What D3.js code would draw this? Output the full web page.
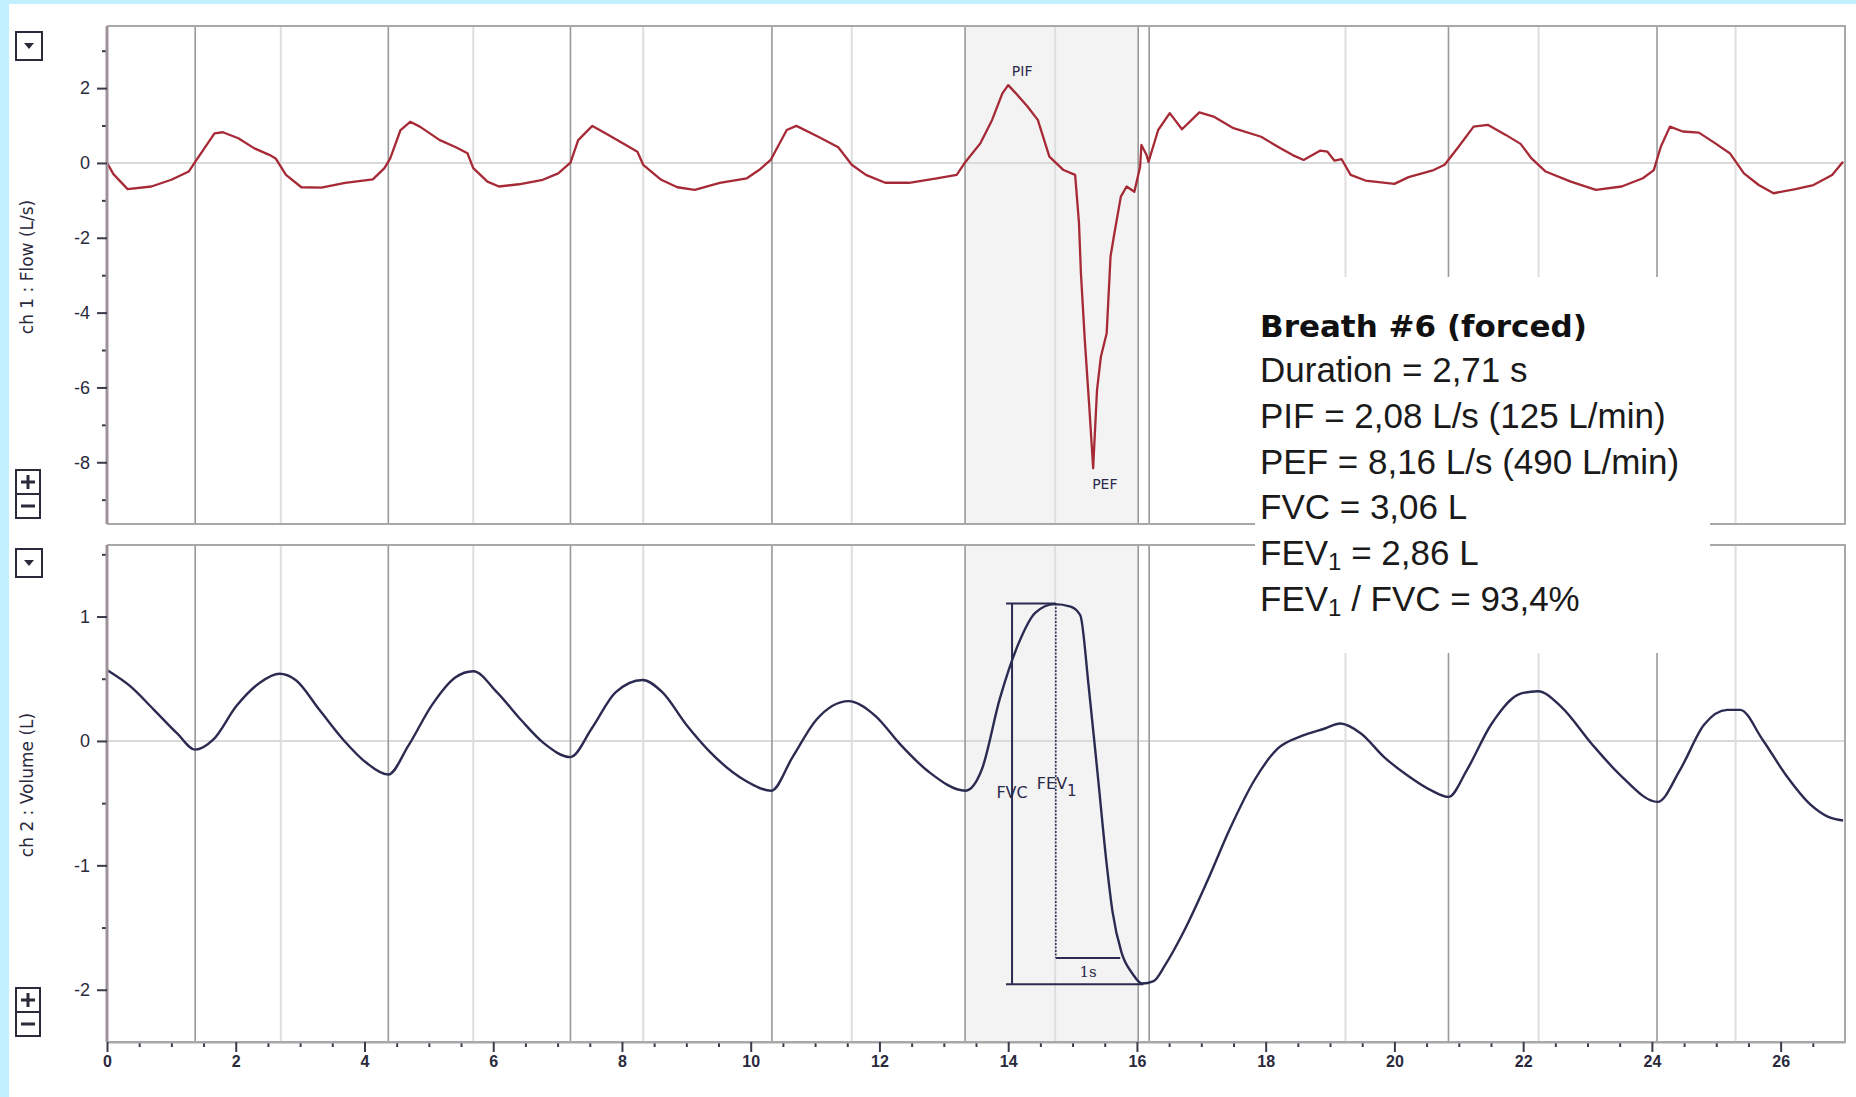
<!DOCTYPE html>
<html>
<head>
<meta charset="utf-8">
<script src="https://cdn.jsdelivr.net/npm/d3@7"></script>
<style>
  html, body { margin: 0; padding: 0; background: #fff; }
  svg { display: block; }
</style>
</head>
<body>
<div id="chart"></div>
<script>
// Spirometry trace: ch 1 flow (L/s) and ch 2 volume (L) over time (s)

const flowTime = [0, 0.1, 0.32, 0.69, 1.0, 1.27, 1.37, 1.67, 1.80, 2.04, 2.29, 2.53, 2.62, 2.78, 3.02, 3.33, 3.70, 4.13,
  4.31, 4.40, 4.56, 4.71, 4.86, 5.17, 5.42, 5.60, 5.69, 5.91, 6.09, 6.40, 6.77, 7.01, 7.20, 7.32, 7.54, 7.75, 8.06,
  8.24, 8.33, 8.61, 8.86, 9.13, 9.52, 9.94, 10.13, 10.31, 10.56, 10.71, 11.05, 11.36, 11.57, 11.79, 12.09, 12.46,
  12.89, 13.20, 13.32, 13.57, 13.75, 13.91, 14.0, 14.12, 14.30, 14.46, 14.64, 14.86, 15.04, 15.10, 15.13, 15.19,
  15.26, 15.32, 15.38, 15.44, 15.53, 15.59, 15.65, 15.75, 15.84, 15.96, 16.05, 16.07, 16.15, 16.18, 16.33, 16.51,
  16.70, 16.97, 17.19, 17.50, 17.93, 18.23, 18.42, 18.59, 18.85, 18.96, 19.07, 19.18, 19.32, 19.55, 20.0, 20.22,
  20.61, 20.78, 21.0, 21.23, 21.45, 21.73, 21.96, 22.13, 22.35, 22.74, 23.13, 23.53, 23.86, 24.03, 24.14, 24.28,
  24.48, 24.73, 24.98, 25.21, 25.43, 25.66, 25.89, 26.23, 26.51, 26.80, 26.97]
const flowValues = [0.0, -0.3, -0.70, -0.63, -0.45, -0.23, 0.03, 0.79, 0.82, 0.66, 0.39, 0.21, 0.12, -0.32, -0.65,
  -0.66, -0.53, -0.44, -0.14, 0.12, 0.88, 1.10, 0.97, 0.61, 0.42, 0.26, -0.14, -0.50, -0.63, -0.57, -0.45, -0.28,
  0.01, 0.61, 0.99, 0.79, 0.48, 0.30, -0.05, -0.45, -0.65, -0.72, -0.53, -0.41, -0.19, 0.08, 0.88, 0.99, 0.70, 0.42,
  -0.05, -0.32, -0.53, -0.53, -0.41, -0.32, -0.01, 0.53, 1.15, 1.86, 2.08, 1.86, 1.51, 1.15, 0.17, -0.19, -0.32,
  -1.61, -2.95, -4.73, -6.52, -8.16, -6.07, -5.18, -4.55, -2.5, -1.88, -0.9, -0.63, -0.77, -0.1, 0.48, 0.21, 0.03,
  0.88, 1.33, 0.90, 1.35, 1.24, 0.93, 0.70, 0.39, 0.21, 0.08, 0.33, 0.30, 0.06, 0.10, -0.32, -0.47, -0.56, -0.38,
  -0.19, -0.05, 0.44, 0.97, 1.02, 0.75, 0.51, 0.12, -0.23, -0.50, -0.72, -0.63, -0.41, -0.19, 0.44, 0.97, 0.84,
  0.81, 0.53, 0.26, -0.28, -0.59, -0.81, -0.70, -0.59, -0.32, 0.03]

const volumeTime = [0, 0.36, 0.73, 1.09, 1.37, 1.65, 2.01, 2.38, 2.68, 2.93, 3.30, 3.67, 4.04, 4.37, 4.68, 5.05,
  5.41, 5.69, 6.06, 6.43, 6.79, 7.20, 7.53, 7.90, 8.32, 8.63, 9.0, 9.37, 9.92, 10.32, 10.65, 11.02, 11.52, 11.94,
  12.31, 12.77, 13.34, 13.59, 13.87, 14.15, 14.42, 14.72, 14.97, 15.12, 15.25, 15.40, 15.53, 15.62, 15.76, 15.93,
  16.08, 16.26, 16.44, 16.72, 17.09, 17.45, 17.82, 18.19, 18.56, 18.92, 19.16, 19.48, 19.84, 20.21, 20.58, 20.84,
  21.13, 21.50, 21.96, 22.23, 22.60, 23.06, 23.52, 24.09, 24.44, 24.81, 25.17, 25.37, 25.72, 26.09, 26.46, 26.74,
  26.97]
const volumeValues = [0.57, 0.44, 0.25, 0.06, -0.07, 0.01, 0.28, 0.47, 0.54, 0.49, 0.25, 0.01, -0.18, -0.27, -0.04,
  0.29, 0.51, 0.56, 0.39, 0.17, -0.02, -0.13, 0.10, 0.39, 0.49, 0.39, 0.13, -0.09, -0.32, -0.40, -0.13, 0.17, 0.32,
  0.20, -0.02, -0.25, -0.40, -0.23, 0.34, 0.77, 1.03, 1.10, 1.08, 1.01, 0.44, -0.32, -0.99, -1.37, -1.70, -1.87,
  -1.95, -1.93, -1.80, -1.54, -1.13, -0.70, -0.32, -0.06, 0.04, 0.10, 0.14, 0.06, -0.13, -0.28, -0.40, -0.45, -0.23,
  0.13, 0.38, 0.40, 0.27, -0.02, -0.28, -0.49, -0.23, 0.13, 0.25, 0.25, 0.01, -0.28, -0.51, -0.61, -0.64]

const breathStarts = [1.37, 4.37, 7.20, 10.33, 13.33, 16.02, 16.19, 20.84, 24.08]
const expirationStarts = [2.70, 5.69, 8.33, 11.57, 14.73, 19.24, 22.24, 25.30]
const forcedBreath = [13.33, 16.02]

const flowMajorTicks = [-8, -6, -4, -2, 0, 2]
const flowMinorTicks = [-9, -7, -5, -3, -1, 1, 3]
const volumeMajorTicks = [-2, -1, 0, 1]
const volumeMinorTicks = [-1.5, -0.5, 0.5, 1.5]
const timeMajorTicks = [0, 2, 4, 6, 8, 10, 12, 14, 16, 18, 20, 22, 24, 26]
const timeMinorTicks = d3.range(0.5, 27, 0.5).filter(d => d % 2 !== 0)

// PIF / PEF points, FVC / FEV1 brackets
const pif = [14.0, 2.08]
const pef = [15.32, -8.16]
const fvcLine = [14.06, 1.105, -1.955]
const fev1Line = [14.74, 1.105, -1.745]
const fvcBottomEnd = 16.1
const oneSecondEnd = 15.74

const infoTitle = "Breath #6 (forced)"
const infoLines = ["Duration = 2,71 s", "PIF = 2,08 L/s (125 L/min)", "PEF = 8,16 L/s (490 L/min)",
  "FVC = 3,06 L", "FEV_1 = 2,86 L", "FEV_1 / FVC = 93,4%"]

const W = 1856, H = 1097
const left = 107, right = 1845
const topPanel = {top: 26, bottom: 524}
const botPanel = {top: 545, bottom: 1042}

const x = d3.scaleLinear().domain([0, 27]).range([left, right])
const yFlow = d3.scaleLinear().domain([-9.65, 3.66]).range([topPanel.bottom, topPanel.top])
const yVol = d3.scaleLinear().domain([-2.42, 1.575]).range([botPanel.bottom, botPanel.top])

const labelFont = "'DejaVu Sans', Verdana, sans-serif"
const tickFont = "'Liberation Sans', Arial, sans-serif"

const svg = d3.select("#chart").append("svg")
    .attr("width", W)
    .attr("height", H)

svg.append("rect").attr("width", W).attr("height", H).attr("fill", "#fff")
svg.append("rect").attr("width", W).attr("height", 4).attr("fill", "#c3f0ff")
svg.append("rect").attr("width", 9).attr("height", H).attr("fill", "#c3f0ff")

function drawPanel(panel, yScale) {
    const g = svg.append("g")

    g.append("rect")
        .attr("x", x(forcedBreath[0]))
        .attr("y", panel.top)
        .attr("width", x(forcedBreath[1]) - x(forcedBreath[0]))
        .attr("height", panel.bottom - panel.top)
        .attr("fill", "#f3f3f3")

    g.append("line")
        .attr("x1", left).attr("x2", right)
        .attr("y1", yScale(0)).attr("y2", yScale(0))
        .attr("stroke", "#dadada")
        .attr("stroke-width", 2)

    g.selectAll(".exp")
        .data(expirationStarts)
        .enter().append("line")
        .attr("x1", d => x(d)).attr("x2", d => x(d))
        .attr("y1", panel.top).attr("y2", panel.bottom)
        .attr("stroke", "#dedede")
        .attr("stroke-width", 2)

    g.selectAll(".insp")
        .data(breathStarts)
        .enter().append("line")
        .attr("x1", d => x(d)).attr("x2", d => x(d))
        .attr("y1", panel.top).attr("y2", panel.bottom)
        .attr("stroke", "#999")
        .attr("stroke-width", 1.6)

    // frame
    g.append("path")
        .attr("d", "M" + left + "," + panel.top + "H" + right + "V" + panel.bottom + "H" + left)
        .attr("fill", "none")
        .attr("stroke", "#a8a8a8")
        .attr("stroke-width", 2)
    return g
}

function yAxis(panel, yScale, major, minor, labelText, labelY) {
    const minorAxis = d3.axisLeft(yScale).tickValues(minor).tickSize(5).tickSizeOuter(0).tickFormat("")
    const majorAxis = d3.axisLeft(yScale).tickValues(major).tickSize(10).tickSizeOuter(0).tickPadding(7)
        .tickFormat(d => d)

    svg.append("g")
        .attr("transform", "translate(" + left + ",0)")
        .call(minorAxis)
        .call(g => g.select(".domain").remove())
        .selectAll("line").attr("stroke", "#3a3a4a").attr("stroke-width", 2)

    const ga = svg.append("g")
        .attr("transform", "translate(" + left + ",0)")
        .call(majorAxis)
    ga.select(".domain")
        .attr("d", "M0," + panel.top + "V" + panel.bottom)
        .attr("stroke", "#a0929a")
        .attr("stroke-width", 3)
    ga.selectAll(".tick line").attr("stroke", "#3a3a4a").attr("stroke-width", 2)
    ga.selectAll(".tick text")
        .attr("fill", "#2a2a3c")
        .style("font-family", tickFont)
        .style("font-size", "18px")

    svg.append("text")
        .attr("transform", "translate(27," + labelY + ") rotate(-90)")
        .attr("text-anchor", "middle")
        .attr("dy", "0.35em")
        .attr("fill", "#2a2a3c")
        .style("font-family", labelFont)
        .style("font-size", "17px")
        .text(labelText)
}

function drawButtons(dropY, zoomY) {
    const b = svg.append("g").attr("fill", "none").attr("stroke", "#2a2a3a").attr("stroke-width", 2)
    b.append("rect").attr("x", 16).attr("y", dropY).attr("width", 26).attr("height", 28)
    b.append("path")
        .attr("d", "M24," + (dropY + 11) + "h10l-5,6z")
        .attr("fill", "#2a2a3a").attr("stroke", "none")
    b.append("rect").attr("x", 16).attr("y", zoomY).attr("width", 24).attr("height", 48)
    b.append("line").attr("x1", 16).attr("x2", 40).attr("y1", zoomY + 24).attr("y2", zoomY + 24)
    b.append("path")
        .attr("d", "M21," + (zoomY + 12) + "h14M28," + (zoomY + 5) + "v14M21," + (zoomY + 36) + "h14")
        .attr("stroke-width", 3)
}

drawPanel(topPanel, yFlow)
drawPanel(botPanel, yVol)

// flow curve
svg.append("path")
    .datum(d3.zip(flowTime, flowValues))
    .attr("d", d3.line().x(d => x(d[0])).y(d => yFlow(d[1])))
    .attr("fill", "none")
    .attr("stroke", "#a62a36")
    .attr("stroke-width", 2.3)
    .attr("stroke-linejoin", "round")

// volume curve
svg.append("path")
    .datum(d3.zip(volumeTime, volumeValues))
    .attr("d", d3.line().curve(d3.curveMonotoneX).x(d => x(d[0])).y(d => yVol(d[1])))
    .attr("fill", "none")
    .attr("stroke", "#2b2b52")
    .attr("stroke-width", 2.4)

// PIF / PEF labels
svg.append("text")
    .attr("x", x(pif[0]) + 14).attr("y", yFlow(pif[1]) - 9)
    .attr("text-anchor", "middle")
    .attr("fill", "#2a2a4a")
    .style("font-family", labelFont).style("font-size", "14px")
    .text("PIF")
svg.append("text")
    .attr("x", x(pef[0]) - 1).attr("y", yFlow(pef[1]) + 21)
    .attr("fill", "#2a2a4a")
    .style("font-family", labelFont).style("font-size", "14px")
    .text("PEF")

// FVC / FEV1 brackets
const ann = svg.append("g").attr("stroke", "#2b2b52").attr("fill", "none")
ann.append("line")
    .attr("x1", x(fvcLine[0])).attr("x2", x(fvcLine[0]))
    .attr("y1", yVol(fvcLine[1])).attr("y2", yVol(fvcLine[2]))
    .attr("stroke-width", 2)
ann.append("line")
    .attr("x1", x(fvcLine[0]) - 6).attr("x2", x(fev1Line[0]))
    .attr("y1", yVol(fvcLine[1])).attr("y2", yVol(fvcLine[1]))
    .attr("stroke-width", 2)
ann.append("line")
    .attr("x1", x(fvcLine[0]) - 6).attr("x2", x(fvcBottomEnd))
    .attr("y1", yVol(fvcLine[2])).attr("y2", yVol(fvcLine[2]))
    .attr("stroke-width", 2)
ann.append("line")
    .attr("x1", x(fev1Line[0])).attr("x2", x(fev1Line[0]))
    .attr("y1", yVol(fev1Line[1])).attr("y2", yVol(fev1Line[2]))
    .attr("stroke-width", 1.5)
    .attr("stroke-dasharray", "2,1.5")
ann.append("line")
    .attr("x1", x(fev1Line[0])).attr("x2", x(oneSecondEnd))
    .attr("y1", yVol(fev1Line[2])).attr("y2", yVol(fev1Line[2]))
    .attr("stroke-width", 2)

svg.append("text")
    .attr("x", x(fvcLine[0])).attr("y", 798)
    .attr("text-anchor", "middle")
    .attr("fill", "#2a2a4a")
    .style("font-family", labelFont).style("font-size", "16px")
    .text("FVC")
const fevLabel = svg.append("text")
    .attr("x", x(fev1Line[0]) - 19).attr("y", 789)
    .attr("fill", "#2a2a4a")
    .style("font-family", labelFont).style("font-size", "16px")
fevLabel.append("tspan").text("FEV")
fevLabel.append("tspan").attr("dy", 7).style("font-size", "15px").text("1")
svg.append("text")
    .attr("x", (x(fev1Line[0]) + x(oneSecondEnd)) / 2).attr("y", yVol(fev1Line[2]) + 19)
    .attr("text-anchor", "middle")
    .attr("fill", "#2a2a4a")
    .style("font-family", "'DejaVu Serif', serif").style("font-size", "15px")
    .text("1s")

// axes
yAxis(topPanel, yFlow, flowMajorTicks, flowMinorTicks, "ch 1 : Flow (L/s)", 267)
yAxis(botPanel, yVol, volumeMajorTicks, volumeMinorTicks, "ch 2 : Volume (L)", 785)

svg.append("g")
    .attr("transform", "translate(0," + botPanel.bottom + ")")
    .call(d3.axisBottom(x).tickValues(timeMinorTicks).tickSize(5).tickSizeOuter(0).tickFormat(""))
    .call(g => g.select(".domain").remove())
    .selectAll("line").attr("stroke", "#3a3a4a").attr("stroke-width", 2)

const gx = svg.append("g")
    .attr("transform", "translate(0," + botPanel.bottom + ")")
    .call(d3.axisBottom(x).tickValues(timeMajorTicks).tickSize(10).tickSizeOuter(0).tickPadding(4))
gx.select(".domain").attr("stroke", "#a8a8a8").attr("stroke-width", 2)
gx.selectAll(".tick line").attr("stroke", "#3a3a4a").attr("stroke-width", 2)
gx.selectAll(".tick text")
    .attr("fill", "#2a2a3c")
    .style("font-family", tickFont)
    .style("font-size", "16px")
    .style("font-weight", "bold")

drawButtons(32, 470)
drawButtons(549, 988)

// breath summary box
const box = svg.append("g")
box.append("rect")
    .attr("x", 1255).attr("y", 277)
    .attr("width", 455).attr("height", 376)
    .attr("fill", "#fff")

box.append("text")
    .attr("x", 1260).attr("y", 337)
    .attr("fill", "#111")
    .style("font-family", labelFont)
    .style("font-weight", "bold")
    .style("font-size", "31px")
    .text(infoTitle)

infoLines.forEach(function (line, i) {
    const t = box.append("text")
        .attr("x", 1260).attr("y", 382 + i * 45.8)
        .attr("fill", "#1a1a1a")
        .style("font-family", tickFont)
        .style("font-size", "35px")
    const parts = line.split("_1")
    parts.forEach(function (p, j) {
        if (j > 0) {
            t.append("tspan").attr("dy", 5).style("font-size", "24px").text("1")
            t.append("tspan").attr("dy", -5).text(p)
        } else {
            t.append("tspan").text(p)
        }
    })
})
</script>
</body>
</html>
